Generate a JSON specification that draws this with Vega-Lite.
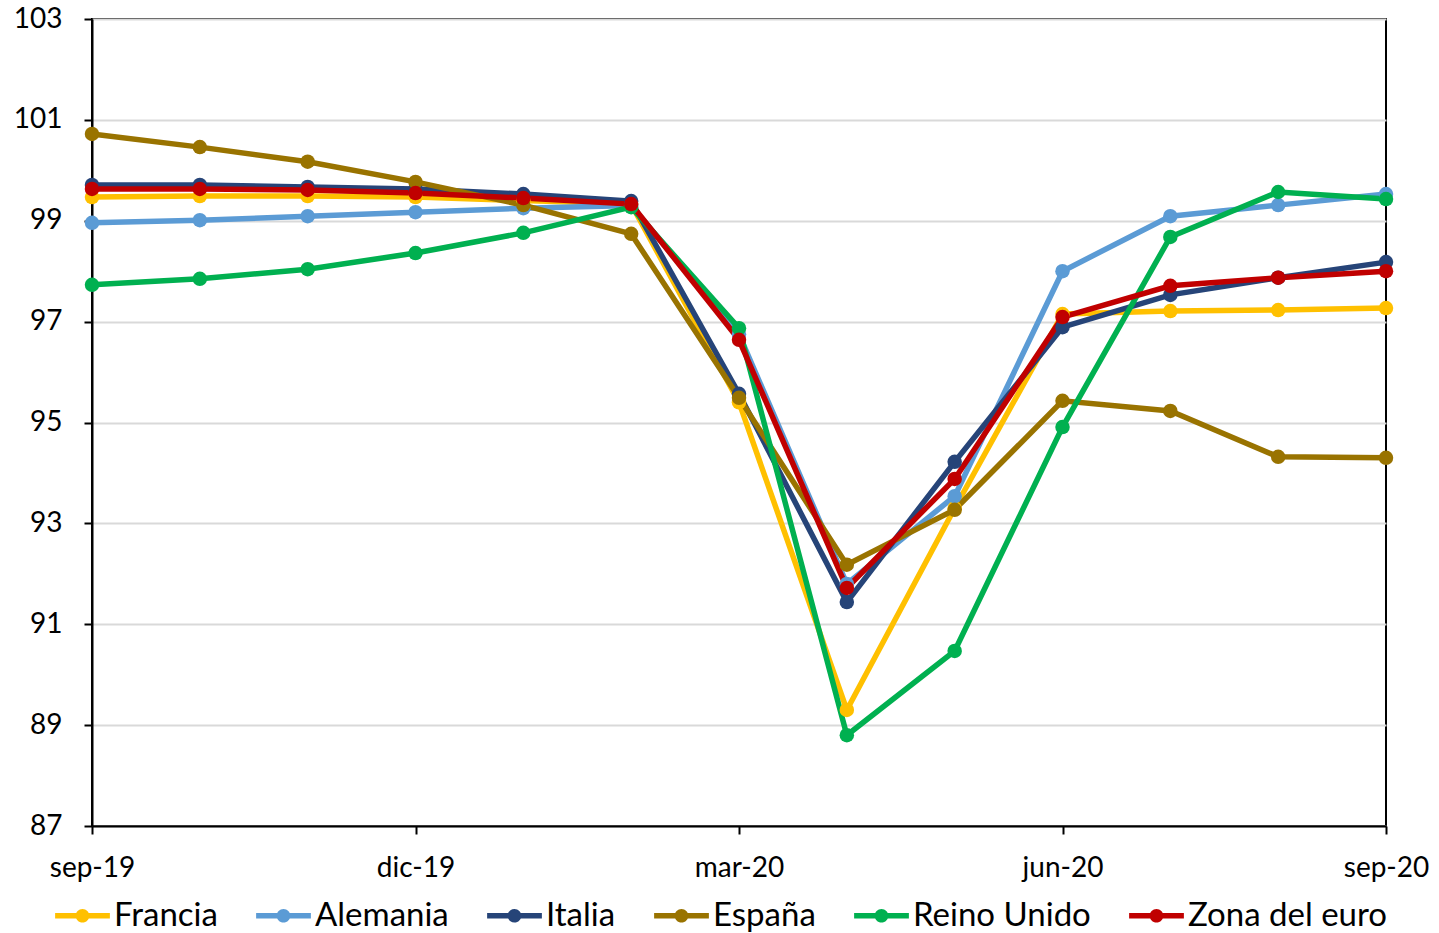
{
  "$schema": "https://vega.github.io/schema/vega-lite/v6.json",
  "width": 1294,
  "height": 807,
  "autosize": {"type": "none"},
  "padding": {"left": 92, "top": 19, "right": 53, "bottom": 107},
  "config": {
    "font": "Lato",
    "view": {"stroke": "#000000", "strokeWidth": 2},
    "axis": {"labelFont": "Lato", "labelColor": "#000000"}
  },
  "data": {
    "values": [
      {"m": "sep-19", "s": "Francia", "v": 99.47}, {"m": "oct-19", "s": "Francia", "v": 99.49}, {"m": "nov-19", "s": "Francia", "v": 99.49}, {"m": "dic-19", "s": "Francia", "v": 99.47}, {"m": "ene-20", "s": "Francia", "v": 99.4}, {"m": "feb-20", "s": "Francia", "v": 99.33}, {"m": "mar-20", "s": "Francia", "v": 95.4}, {"m": "abr-20", "s": "Francia", "v": 89.3}, {"m": "may-20", "s": "Francia", "v": 93.3}, {"m": "jun-20", "s": "Francia", "v": 97.15}, {"m": "jul-20", "s": "Francia", "v": 97.21}, {"m": "ago-20", "s": "Francia", "v": 97.23}, {"m": "sep-20", "s": "Francia", "v": 97.27},
      {"m": "sep-19", "s": "Alemania", "v": 98.96}, {"m": "oct-19", "s": "Alemania", "v": 99.01}, {"m": "nov-19", "s": "Alemania", "v": 99.09}, {"m": "dic-19", "s": "Alemania", "v": 99.17}, {"m": "ene-20", "s": "Alemania", "v": 99.25}, {"m": "feb-20", "s": "Alemania", "v": 99.3}, {"m": "mar-20", "s": "Alemania", "v": 96.75}, {"m": "abr-20", "s": "Alemania", "v": 91.8}, {"m": "may-20", "s": "Alemania", "v": 93.54}, {"m": "jun-20", "s": "Alemania", "v": 98.0}, {"m": "jul-20", "s": "Alemania", "v": 99.09}, {"m": "ago-20", "s": "Alemania", "v": 99.31}, {"m": "sep-20", "s": "Alemania", "v": 99.53},
      {"m": "sep-19", "s": "Italia", "v": 99.71}, {"m": "oct-19", "s": "Italia", "v": 99.71}, {"m": "nov-19", "s": "Italia", "v": 99.67}, {"m": "dic-19", "s": "Italia", "v": 99.63}, {"m": "ene-20", "s": "Italia", "v": 99.53}, {"m": "feb-20", "s": "Italia", "v": 99.39}, {"m": "mar-20", "s": "Italia", "v": 95.57}, {"m": "abr-20", "s": "Italia", "v": 91.44}, {"m": "may-20", "s": "Italia", "v": 94.22}, {"m": "jun-20", "s": "Italia", "v": 96.89}, {"m": "jul-20", "s": "Italia", "v": 97.53}, {"m": "ago-20", "s": "Italia", "v": 97.87}, {"m": "sep-20", "s": "Italia", "v": 98.18},
      {"m": "sep-19", "s": "España", "v": 100.72}, {"m": "oct-19", "s": "España", "v": 100.46}, {"m": "nov-19", "s": "España", "v": 100.17}, {"m": "dic-19", "s": "España", "v": 99.77}, {"m": "ene-20", "s": "España", "v": 99.31}, {"m": "feb-20", "s": "España", "v": 98.74}, {"m": "mar-20", "s": "España", "v": 95.49}, {"m": "abr-20", "s": "España", "v": 92.18}, {"m": "may-20", "s": "España", "v": 93.27}, {"m": "jun-20", "s": "España", "v": 95.43}, {"m": "jul-20", "s": "España", "v": 95.23}, {"m": "ago-20", "s": "España", "v": 94.32}, {"m": "sep-20", "s": "España", "v": 94.3},
      {"m": "sep-19", "s": "Reino Unido", "v": 97.73}, {"m": "oct-19", "s": "Reino Unido", "v": 97.85}, {"m": "nov-19", "s": "Reino Unido", "v": 98.04}, {"m": "dic-19", "s": "Reino Unido", "v": 98.36}, {"m": "ene-20", "s": "Reino Unido", "v": 98.76}, {"m": "feb-20", "s": "Reino Unido", "v": 99.27}, {"m": "mar-20", "s": "Reino Unido", "v": 96.87}, {"m": "abr-20", "s": "Reino Unido", "v": 88.8}, {"m": "may-20", "s": "Reino Unido", "v": 90.47}, {"m": "jun-20", "s": "Reino Unido", "v": 94.91}, {"m": "jul-20", "s": "Reino Unido", "v": 98.68}, {"m": "ago-20", "s": "Reino Unido", "v": 99.57}, {"m": "sep-20", "s": "Reino Unido", "v": 99.43},
      {"m": "sep-19", "s": "Zona del euro", "v": 99.63}, {"m": "oct-19", "s": "Zona del euro", "v": 99.63}, {"m": "nov-19", "s": "Zona del euro", "v": 99.61}, {"m": "dic-19", "s": "Zona del euro", "v": 99.55}, {"m": "ene-20", "s": "Zona del euro", "v": 99.45}, {"m": "feb-20", "s": "Zona del euro", "v": 99.33}, {"m": "mar-20", "s": "Zona del euro", "v": 96.64}, {"m": "abr-20", "s": "Zona del euro", "v": 91.72}, {"m": "may-20", "s": "Zona del euro", "v": 93.88}, {"m": "jun-20", "s": "Zona del euro", "v": 97.09}, {"m": "jul-20", "s": "Zona del euro", "v": 97.71}, {"m": "ago-20", "s": "Zona del euro", "v": 97.87}, {"m": "sep-20", "s": "Zona del euro", "v": 98.0}
    ]
  },
  "encoding": {
    "x": {
      "field": "m", "type": "ordinal",
      "sort": ["sep-19","oct-19","nov-19","dic-19","ene-20","feb-20","mar-20","abr-20","may-20","jun-20","jul-20","ago-20","sep-20"],
      "scale": {"type": "point", "padding": 0},
      "axis": {
        "title": null, "values": ["sep-19","dic-19","mar-20","jun-20","sep-20"],
        "labelAngle": 0, "labelFontSize": 28, "labelPadding": 20,
        "domainColor": "#000000", "domainWidth": 2, "tickColor": "#000000", "tickWidth": 2, "tickSize": 8,
        "grid": false
      }
    },
    "y": {
      "field": "v", "type": "quantitative",
      "scale": {"domain": [87, 103], "nice": false, "zero": false},
      "axis": {
        "title": null, "values": [87, 89, 91, 93, 95, 97, 99, 101, 103],
        "labelFontSize": 28, "labelPadding": 22,
        "domainColor": "#000000", "domainWidth": 2, "tickColor": "#000000", "tickWidth": 2, "tickSize": 8,
        "grid": true, "gridColor": "#d9d9d9", "gridWidth": 2
      }
    },
    "color": {
      "field": "s", "type": "nominal",
      "scale": {
        "domain": ["Francia", "Alemania", "Italia", "España", "Reino Unido", "Zona del euro"],
        "range": ["#FFC000", "#5B9BD5", "#264478", "#997300", "#00B050", "#C00000"]
      },
      "legend": {
        "title": null, "orient": "none", "direction": "horizontal",
        "legendX": -37, "legendY": 869,
        "symbolType": "M-1,-0.1 L1,-0.1 L1,0.1 L-1,0.1 Z M0.25,0 A0.25,0.25 0 1,1 -0.25,0 A0.25,0.25 0 1,1 0.25,0 Z",
        "symbolSize": 3000, "symbolStrokeWidth": 0,
        "labelFontSize": 33, "labelColor": "#000000", "labelOffset": 4, "labelLimit": 400,
        "columnPadding": 38
      }
    }
  },
  "mark": {"type": "line", "strokeWidth": 5.5, "point": {"filled": true, "size": 210, "opacity": 1}}
}
